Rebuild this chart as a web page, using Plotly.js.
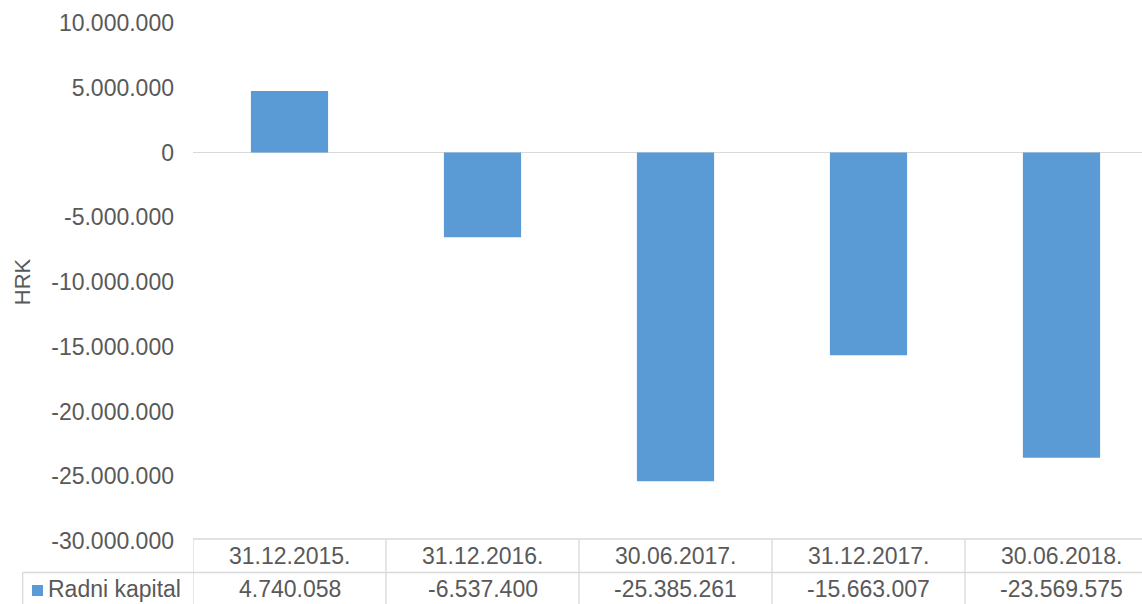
<!DOCTYPE html>
<html>
<head>
<meta charset="utf-8">
<script src="https://cdn.plot.ly/plotly-3.0.1.min.js"></script>
<style>html,body{margin:0;padding:0;background:#fff;}#chart{width:1142px;height:604px;}</style>
</head>
<body>
<div id="chart"></div>
<script>
const categories = ['31.12.2015.', '31.12.2016.', '30.06.2017.', '31.12.2017.', '30.06.2018.'];
const seriesName = 'Radni kapital';
const values = [4740058, -6537400, -25385261, -15663007, -23569575];
const yTickValues = [10000000, 5000000, 0, -5000000, -10000000, -15000000, -20000000, -25000000, -30000000];
const yAxisTitle = 'HRK';

function fmt(n) {
  const s = Math.abs(Math.round(n)).toString().replace(/\B(?=(\d{3})+(?!\d))/g, '.');
  return (n < 0 ? '-' : '') + s;
}

const W = 1142, H = 604;
const L = 193, R = 0, T = 23, B = 63;
const plotW = W - L - R, plotH = H - T - B;
const px2paperX = px => (px - L) / plotW;
const px2paperY = py => (H - B - py) / plotH;

const FONT = '"Liberation Sans", Arial, sans-serif';
const TXT = '#595959';
const GRID = '#d9d9d9';
const BAR = '#5b9bd5';

const n = categories.length;
const catW = 193;
// x range extends slightly beyond the visible right edge (chart cropped)
const xRange = [-0.5, n - 0.5 - (L + n * catW - W) / catW];

const shapes = [];
const lineStyle = {color: GRID, width: 1.3};
// table top border
shapes.push({type: 'line', xref: 'x', yref: 'paper', x0: -0.5, x1: n - 0.5,
  y0: px2paperY(539), y1: px2paperY(539), line: lineStyle});
// row divider
shapes.push({type: 'line', xref: 'paper', yref: 'paper', x0: px2paperX(22.7), x1: 1.05,
  y0: px2paperY(572.5), y1: px2paperY(572.5), line: lineStyle});
// bottom border
shapes.push({type: 'line', xref: 'paper', yref: 'paper', x0: px2paperX(22.7), x1: 1.05,
  y0: px2paperY(605), y1: px2paperY(605), line: lineStyle});
// vertical column lines
for (let i = 0; i <= n; i++) {
  shapes.push({type: 'line', xref: 'x', yref: 'paper', x0: i - 0.5, x1: i - 0.5,
    y0: px2paperY(539), y1: px2paperY(606), line: lineStyle});
}
// left border of label cell
shapes.push({type: 'line', xref: 'paper', yref: 'paper', x0: px2paperX(22.7), x1: px2paperX(22.7),
  y0: px2paperY(572.5), y1: px2paperY(606), line: lineStyle});
// legend key
shapes.push({type: 'rect', xref: 'paper', yref: 'paper', x0: px2paperX(32), x1: px2paperX(43),
  y0: px2paperY(596), y1: px2paperY(585), line: {width: 0}, fillcolor: BAR});

const annotations = [];
categories.forEach((c, i) => {
  annotations.push({xref: 'x', yref: 'paper', x: i, y: px2paperY(556), text: c, showarrow: false,
    xanchor: 'center', yanchor: 'middle', font: {family: FONT, size: 23, color: TXT}});
  annotations.push({xref: 'x', yref: 'paper', x: i, y: px2paperY(588.5), text: fmt(values[i]), showarrow: false,
    xanchor: 'center', yanchor: 'middle', font: {family: FONT, size: 23, color: TXT}});
});
annotations.push({xref: 'paper', yref: 'paper', x: px2paperX(46), y: px2paperY(588.5), text: seriesName,
  showarrow: false, xanchor: 'left', yanchor: 'middle', font: {family: FONT, size: 23, color: TXT}});

const trace = {
  type: 'bar', x: categories, y: values, name: seriesName,
  marker: {color: BAR, line: {width: 0}}, hoverinfo: 'none'
};

const layout = {
  width: W, height: H,
  margin: {l: L, r: R, t: T, b: B, pad: 0},
  paper_bgcolor: '#fff', plot_bgcolor: '#fff',
  showlegend: false,
  bargap: 0.6,
  font: {family: FONT, color: TXT, size: 23},
  xaxis: {type: 'category', range: xRange, showticklabels: false, showgrid: false,
    zeroline: false, showline: false, ticks: '', fixedrange: true},
  yaxis: {range: [-30000000, 10000000], tickvals: yTickValues, ticktext: yTickValues.map(fmt),
    showgrid: false, zeroline: true, zerolinecolor: GRID, zerolinewidth: 1.5,
    showline: false, ticks: '', ticklabelstandoff: 18,
    tickfont: {family: FONT, size: 23, color: TXT},
    title: {text: yAxisTitle, font: {family: FONT, size: 22, color: TXT}, standoff: 14},
    automargin: false, fixedrange: true},
  shapes: shapes,
  annotations: annotations
};

Plotly.newPlot('chart', [trace], layout, {staticPlot: true, displayModeBar: false});
</script>
</body>
</html>
